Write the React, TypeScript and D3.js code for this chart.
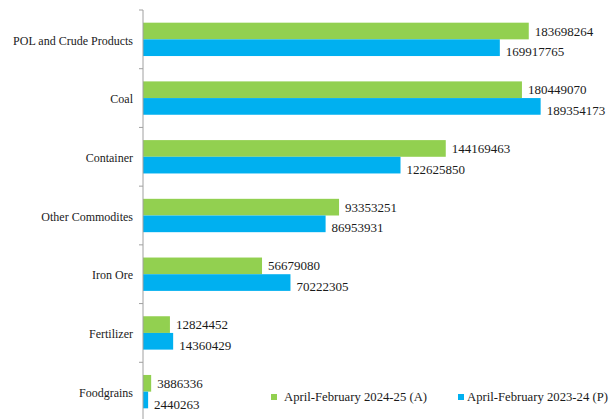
import React from "react";
import * as d3 from "d3";

const categories = [
  "POL and Crude Products",
  "Coal",
  "Container",
  "Other Commodites",
  "Iron Ore",
  "Fertilizer",
  "Foodgrains",
];
const series2425 = [183698264, 180449070, 144169463, 93353251, 56679080, 12824452, 3886336];
const series2324 = [169917765, 189354173, 122625850, 86953931, 70222305, 14360429, 2440263];
const seriesNames = ["April-February 2024-25 (A)", "April-February 2023-24 (P)"];
const seriesColors = ["#92D050", "#00B0F0"];

const W = 616;
const H = 419;
const FONT = "Liberation Serif, DejaVu Serif, serif";

export default function App() {
  const x = d3.scaleLinear().domain([0, 200000000]).range([143, 563]);
  const y = d3.scaleBand<string>().domain(categories).range([10, 421]).padding(0);
  const inner = d3
    .scaleBand<number>()
    .domain([0, 1])
    .range([0, y.step()])
    .paddingInner(0)
    .paddingOuter(0.76);
  const data = [series2425, series2324];
  const ticks = d3.range(categories.length + 1).map((i) => 10 + i * y.step());
  const ts = { fontFamily: FONT } as React.CSSProperties;

  return (
    <svg
      width={W}
      height={H}
      style={{ position: "absolute", left: 0, top: 0, background: "#fff", fontFamily: FONT }}
    >
      {categories.map((c, ci) => (
        <g key={c}>
          {data.map((s, si) => {
            const y0 = (y(c) as number) + (inner(si) as number);
            const bw = inner.bandwidth();
            return (
              <g key={si}>
                <rect
                  x={x(0)}
                  y={y0}
                  width={x(s[ci]) - x(0)}
                  height={bw}
                  fill={seriesColors[si]}
                />
                <text
                  x={x(s[ci]) + 6}
                  y={y0 + bw / 2 + (si === 1 ? 4 : 0)}
                  dy="0.35em"
                  fontSize={13}
                  fill="#1a1a1a"
                  style={ts}
                >
                  {s[ci]}
                </text>
              </g>
            );
          })}
          <text
            x={133}
            y={(y(c) as number) + y.step() / 2 + 1}
            dy="0.35em"
            textAnchor="end"
            fontSize={12}
            fill="#1a1a1a"
            style={ts}
          >
            {c}
          </text>
        </g>
      ))}
      <line x1={143} x2={143} y1={10} y2={H} stroke="#a0a0a0" strokeWidth={1} />
      {ticks.map((t) => (
        <line key={t} x1={139} x2={143} y1={t} y2={t} stroke="#a0a0a0" strokeWidth={1} />
      ))}
      <g>
        <rect x={271} y={394} width={6} height={6} fill={seriesColors[0]} />
        <text x={284} y={397} dy="0.35em" fontSize={12.7} fill="#1a1a1a" style={ts}>
          {seriesNames[0]}
        </text>
        <rect x={458} y={394} width={6} height={6} fill={seriesColors[1]} />
        <text x={467} y={397} dy="0.35em" fontSize={12.7} fill="#1a1a1a" style={ts}>
          {seriesNames[1]}
        </text>
      </g>
    </svg>
  );
}
